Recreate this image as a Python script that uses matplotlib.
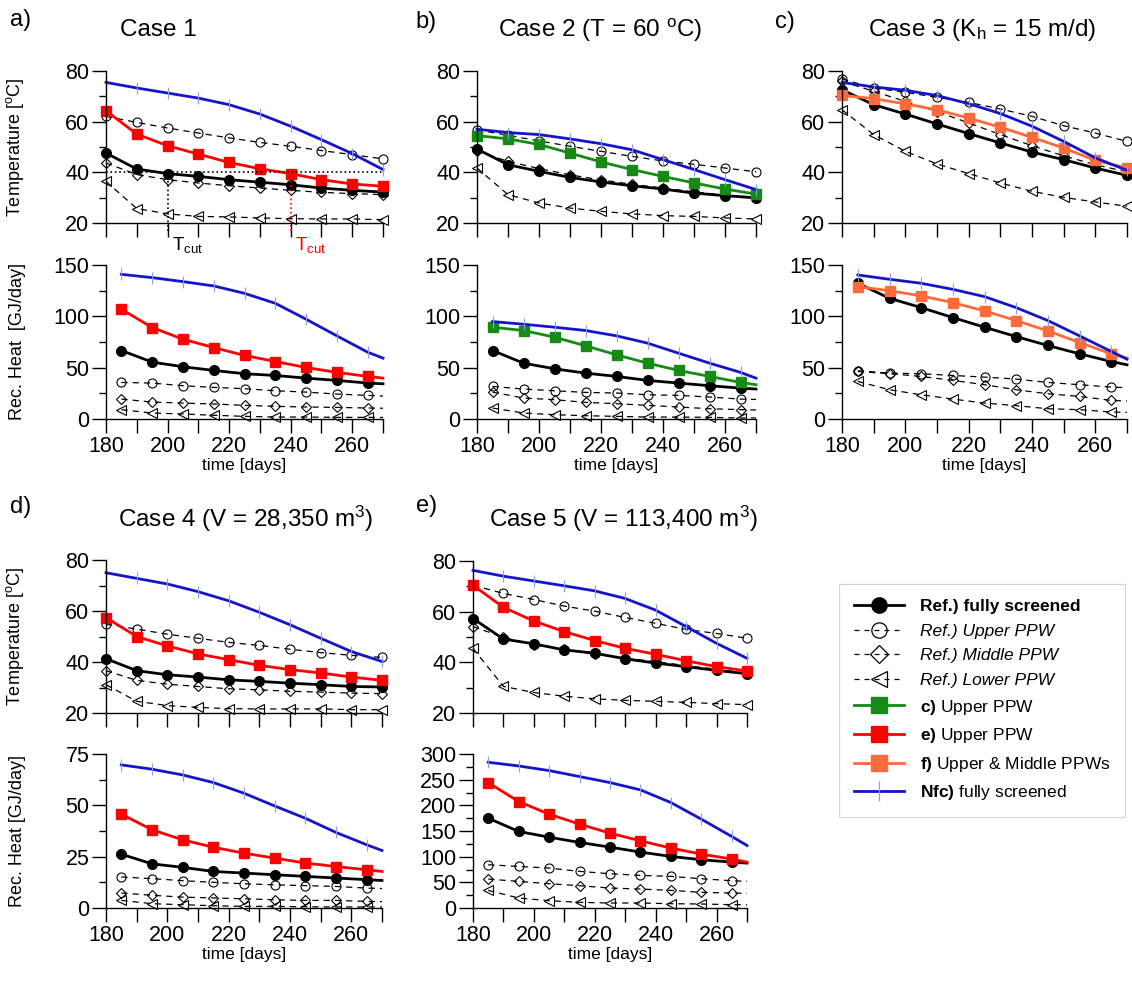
import matplotlib
matplotlib.use("Agg")
import matplotlib.pyplot as plt
from matplotlib.lines import Line2D
from matplotlib.ticker import MultipleLocator

plt.rcParams["font.family"] = ["Liberation Sans", "DejaVu Sans"]
plt.rcParams["mathtext.fontset"] = "custom"
plt.rcParams["mathtext.rm"] = "Liberation Sans"
plt.rcParams["mathtext.it"] = "Liberation Sans:italic"
plt.rcParams["mathtext.bf"] = "Liberation Sans:bold"

W, H = 1132, 988

# time axes (temperature sampled every 10 days, heat mid-interval + end)
DAYS_T = [180, 190, 200, 210, 220, 230, 240, 250, 260, 270]
DAYS_H = [185, 195, 205, 215, 225, 235, 245, 255, 265, 270]

# ---- Case 1 ----
A_T_REF = [47.6, 41.3, 39.5, 38.4, 37.1, 36.1, 35.1, 33.8, 32.9, 32.2]
A_T_UP = [62.1, 59.7, 57.5, 55.5, 53.6, 51.8, 50.3, 48.6, 47.0, 45.3]
A_T_MID = [43.7, 39.1, 37.1, 35.8, 34.7, 33.8, 32.9, 32.1, 31.6, 31.2]
A_T_LOW = [36.4, 25.7, 23.6, 22.6, 22.4, 22.0, 21.7, 21.6, 21.6, 21.3]
A_T_CASE = [64.3, 55.1, 50.5, 47.2, 43.9, 41.4, 39.5, 37.1, 35.4, 34.5]
A_T_NFC = [75.5, 73.3, 71.3, 69.3, 66.7, 63.0, 58.2, 52.9, 47.4, 41.1]
A_H_REF = [66.7, 55.4, 50.9, 47.3, 44.1, 42.4, 39.8, 37.6, 35.0, 34.3]
A_H_UP = [35.6, 35.0, 32.4, 30.8, 29.5, 27.5, 26.2, 24.3, 23.0, 22.4]
A_H_MID = [19.4, 16.5, 15.5, 14.6, 13.3, 12.3, 11.7, 11.3, 10.7, 10.5]
A_H_LOW = [9.1, 5.8, 4.9, 3.6, 2.6, 1.9, 1.9, 1.6, 1.6, 1.5]
A_H_CASE = [106.9, 89.1, 77.7, 69.6, 61.9, 56.0, 50.2, 45.4, 41.5, 39.8]
A_H_NFC = [140.9, 137.7, 133.8, 129.6, 122.4, 112.7, 97.2, 81.0, 65.1, 59.3]

# ---- Case 2 ----
B_T_REF = [49.2, 43.0, 40.4, 38.0, 36.2, 34.7, 33.4, 31.8, 30.8, 29.9]
B_T_UP = [56.8, 54.6, 52.4, 50.3, 48.3, 46.3, 44.5, 43.2, 41.7, 40.2]
B_T_MID = [48.5, 44.3, 41.5, 39.0, 37.0, 35.3, 33.8, 32.3, 31.0, 30.2]
B_T_LOW = [41.7, 31.2, 27.9, 25.9, 24.6, 23.6, 22.9, 22.6, 22.0, 21.6]
B_T_CASE = [54.5, 53.2, 51.0, 47.6, 44.1, 41.1, 38.4, 35.8, 33.4, 31.4]
B_T_NFC = [57.0, 55.7, 54.9, 53.2, 51.3, 48.9, 45.0, 41.1, 37.1, 33.2]
B_H_REF = [66.7, 54.4, 48.9, 44.7, 41.5, 37.6, 35.0, 32.4, 30.1, 29.2]
B_H_UP = [31.7, 29.2, 27.5, 25.9, 25.3, 23.6, 23.0, 21.4, 19.4, 19.0]
B_H_MID = [26.2, 20.4, 18.8, 16.2, 14.9, 13.3, 11.7, 10.0, 9.1, 8.8]
B_H_LOW = [10.7, 5.8, 4.2, 3.2, 2.6, 1.9, 1.9, 1.6, 1.0, 1.0]
B_H_CASE = [89.4, 86.2, 79.7, 71.3, 62.5, 54.4, 47.3, 41.5, 35.6, 33.4]
B_H_NFC = [94.9, 92.3, 89.4, 86.2, 81.0, 73.9, 64.1, 54.4, 45.4, 39.8]

# ---- Case 3 ----
C_T_REF = [72.6, 66.7, 63.0, 59.1, 55.3, 51.6, 48.0, 45.0, 41.7, 38.8]
C_T_UP = [76.8, 73.3, 71.6, 69.6, 67.6, 65.0, 62.1, 58.4, 55.5, 52.2]
C_T_MID = [75.9, 72.0, 68.0, 64.0, 59.5, 54.9, 50.5, 46.5, 43.0, 40.2]
C_T_LOW = [64.7, 54.9, 48.3, 43.3, 39.5, 35.8, 32.5, 30.1, 28.3, 26.6]
C_T_CASE = [70.4, 69.1, 67.0, 64.7, 61.4, 57.8, 53.8, 49.6, 44.7, 41.7]
C_T_NFC = [75.5, 73.7, 72.4, 70.3, 67.1, 63.2, 58.2, 52.2, 45.7, 40.8]
C_H_REF = [132.2, 117.6, 108.5, 98.8, 89.4, 80.3, 71.6, 63.5, 56.0, 52.8]
C_H_UP = [47.0, 44.7, 44.1, 42.4, 40.8, 38.9, 35.6, 33.4, 31.1, 30.5]
C_H_MID = [46.3, 44.1, 41.5, 37.6, 33.4, 28.5, 24.6, 22.0, 18.1, 17.5]
C_H_LOW = [36.6, 28.5, 23.6, 19.4, 15.5, 13.0, 10.0, 9.1, 6.8, 6.5]
C_H_CASE = [128.9, 125.0, 119.9, 113.4, 105.3, 95.9, 85.8, 74.5, 63.5, 59.3]
C_H_NFC = [140.3, 136.1, 132.2, 126.3, 119.2, 108.5, 95.9, 81.0, 65.8, 58.3]

# ---- Case 4 ----
D_T_REF = [41.3, 36.6, 35.0, 34.1, 33.0, 32.4, 31.7, 31.1, 30.4, 30.2]
D_T_UP = [54.8, 52.9, 50.9, 49.3, 47.7, 46.5, 45.0, 43.7, 42.6, 41.8]
D_T_MID = [36.6, 32.8, 31.3, 30.4, 29.5, 29.1, 28.5, 28.2, 27.8, 27.6]
D_T_LOW = [31.1, 24.6, 22.9, 22.2, 21.7, 21.6, 21.6, 21.6, 21.3, 21.3]
D_T_CASE = [57.4, 50.0, 46.3, 43.2, 40.9, 38.7, 37.0, 35.7, 34.1, 32.8]
D_T_NFC = [75.0, 72.8, 70.6, 67.6, 64.0, 59.5, 54.6, 49.3, 44.1, 40.2]
D_H_REF = [26.2, 21.5, 19.8, 17.8, 17.0, 16.2, 15.4, 14.6, 13.8, 13.4]
D_H_UP = [15.1, 14.3, 13.3, 12.5, 11.8, 11.3, 10.9, 10.5, 9.7, 9.5]
D_H_MID = [7.3, 6.2, 5.3, 4.9, 4.5, 4.0, 3.7, 3.7, 3.2, 3.1]
D_H_LOW = [3.7, 2.1, 1.6, 1.1, 0.8, 0.8, 0.6, 0.5, 0.5, 0.5]
D_H_CASE = [45.7, 38.1, 33.2, 29.6, 26.7, 24.3, 21.9, 20.2, 18.6, 17.8]
D_H_NFC = [69.7, 67.6, 64.8, 61.1, 55.9, 49.7, 43.7, 36.8, 30.8, 28.0]

# ---- Case 5 ----
E_T_REF = [57.3, 49.2, 47.3, 44.9, 43.6, 41.4, 39.7, 38.3, 36.8, 35.5]
E_T_UP = [70.4, 67.2, 64.8, 62.2, 60.2, 57.7, 55.4, 53.0, 51.4, 49.5]
E_T_MID = [54.1, 49.9, 46.9, 45.2, 43.2, 41.6, 40.3, 38.7, 37.3, 35.7]
E_T_LOW = [45.5, 30.5, 28.1, 26.6, 25.6, 25.0, 24.6, 24.2, 23.7, 23.3]
E_T_CASE = [70.4, 61.7, 56.3, 52.1, 48.6, 45.5, 43.2, 40.6, 38.3, 36.6]
E_T_NFC = [76.3, 74.0, 72.1, 70.2, 68.2, 65.2, 60.6, 54.1, 47.5, 41.6]
E_H_REF = [175.0, 149.1, 138.0, 127.7, 118.6, 108.9, 100.5, 94.0, 89.4, 87.5]
E_H_UP = [84.3, 81.0, 77.8, 71.3, 66.8, 63.5, 61.6, 57.0, 53.1, 52.0]
E_H_MID = [56.4, 51.8, 47.3, 43.4, 38.9, 36.9, 34.3, 30.5, 29.2, 28.5]
E_H_LOW = [34.3, 19.4, 14.3, 11.0, 9.7, 9.7, 8.4, 7.8, 6.5, 6.2]
E_H_CASE = [244.3, 207.4, 182.8, 163.3, 145.8, 130.9, 116.7, 105.0, 95.3, 89.4]
E_H_NFC = [283.9, 276.7, 267.7, 256.0, 244.3, 230.1, 205.4, 173.0, 139.3, 121.8]

RED = "#ff0000"
GREEN = "#158a15"
ORANGE = "#ff6a3a"
BLUE = "#1414c8"
BLUE_TICK = "#8a9cf0"

HEAT_MARKS = list(range(9))  # last heat point (day 270) carries no marker


def px_box(left, top, right, bottom):
    """Pixel box of the reference -> figure fraction rect."""
    return [left / W, 1 - bottom / H, (right - left) / W, (bottom - top) / H]


def draw_series(ax, days, ref, up, mid, low, case, nfc, case_color, mark):
    dash = dict(color="black", lw=0.9, dashes=(5, 4), mfc="none",
                mec="black", mew=0.8, markevery=mark, clip_on=False)
    ax.plot(days, up, marker="o", ms=6.5, **dash)
    ax.plot(days, mid, marker="D", ms=5.2, **dash)
    ax.plot(days, low, marker="<", ms=6.5, **dash)
    ax.plot(days, ref, color="black", lw=2.0, marker="o", ms=7,
            markevery=mark, clip_on=False)
    ax.plot(days, case, color=case_color, lw=2.0, marker="s", ms=7,
            markevery=mark, clip_on=False)
    ax.plot(days, nfc, color=BLUE, lw=2.0, marker="|", ms=8, mec=BLUE_TICK,
            mew=0.8, markevery=mark, clip_on=False)


def style_axis(ax, ylim, major, minor, show_x):
    ax.set_xlim(180, 270)
    ax.set_ylim(*ylim)
    for side in ("top", "right"):
        ax.spines[side].set_visible(False)
    for side in ("left", "bottom"):
        ax.spines[side].set_linewidth(1.0)
    ax.xaxis.set_major_locator(MultipleLocator(20))
    ax.xaxis.set_minor_locator(MultipleLocator(10))
    ax.yaxis.set_major_locator(MultipleLocator(major))
    ax.yaxis.set_minor_locator(MultipleLocator(minor))
    ax.tick_params(which="both", direction="out", width=1.0, labelsize=15.5)
    ax.tick_params(axis="x", which="both", length=10, pad=2)
    ax.tick_params(axis="y", which="major", length=10, pad=2)
    ax.tick_params(axis="y", which="minor", length=5)
    if not show_x:
        ax.tick_params(axis="x", labelbottom=False)


def make_panel(fig, temp_box, heat_box, temp, heat, color, heat_lim):
    ax_t = fig.add_axes(px_box(*temp_box))
    draw_series(ax_t, DAYS_T, *temp, color, None)
    style_axis(ax_t, (20, 80), 20, 10, False)

    ax_h = fig.add_axes(px_box(*heat_box))
    draw_series(ax_h, DAYS_H, *heat, color, HEAT_MARKS)
    top, major = heat_lim
    style_axis(ax_h, (0, top), major, major / 2, True)
    ax_h.set_xlabel("time [days]", fontsize=12.5, labelpad=1)
    return ax_t, ax_h


def main():
    fig = plt.figure(figsize=(W / 100, H / 100), dpi=100)

    ax_at, ax_ah = make_panel(
        fig, (106, 71, 383, 223), (106, 265, 383, 419),
        (A_T_REF, A_T_UP, A_T_MID, A_T_LOW, A_T_CASE, A_T_NFC),
        (A_H_REF, A_H_UP, A_H_MID, A_H_LOW, A_H_CASE, A_H_NFC),
        RED, (150, 50))
    make_panel(
        fig, (477, 71, 756, 223), (477, 265, 756, 419),
        (B_T_REF, B_T_UP, B_T_MID, B_T_LOW, B_T_CASE, B_T_NFC),
        (B_H_REF, B_H_UP, B_H_MID, B_H_LOW, B_H_CASE, B_H_NFC),
        GREEN, (150, 50))
    make_panel(
        fig, (842, 71, 1127, 223), (842, 265, 1127, 419),
        (C_T_REF, C_T_UP, C_T_MID, C_T_LOW, C_T_CASE, C_T_NFC),
        (C_H_REF, C_H_UP, C_H_MID, C_H_LOW, C_H_CASE, C_H_NFC),
        ORANGE, (150, 50))
    ax_dt, ax_dh = make_panel(
        fig, (106, 560, 382, 713), (106, 754, 382, 908),
        (D_T_REF, D_T_UP, D_T_MID, D_T_LOW, D_T_CASE, D_T_NFC),
        (D_H_REF, D_H_UP, D_H_MID, D_H_LOW, D_H_CASE, D_H_NFC),
        RED, (75, 25))
    make_panel(
        fig, (473, 561, 747, 713), (473, 754, 747, 908),
        (E_T_REF, E_T_UP, E_T_MID, E_T_LOW, E_T_CASE, E_T_NFC),
        (E_H_REF, E_H_UP, E_H_MID, E_H_LOW, E_H_CASE, E_H_NFC),
        RED, (300, 50))

    # y labels (only leftmost column)
    for ax in (ax_at, ax_dt):
        ax.set_ylabel(r"Temperature [$^{\rm o}$C]", fontsize=13, labelpad=6)
    ax_ah.set_ylabel("Rec. Heat  [GJ/day]", fontsize=13, labelpad=6)
    ax_dh.set_ylabel("Rec. Heat [GJ/day]", fontsize=13, labelpad=6)
    for ax in (ax_at, ax_ah, ax_dt, ax_dh):
        ax.yaxis.set_label_coords(-80 / 277, 0.5)

    # T_cut markers in case 1
    ax_at.plot([180, 270], [40, 40], color="black", lw=1.2, ls=":")
    ax_at.plot([200, 200], [40, 15.5], color="black", lw=1.2, ls=":", clip_on=False)
    ax_at.plot([240, 240], [40, 15.5], color=RED, lw=1.2, ls=":", clip_on=False)
    ax_at.text(201.5, 11.3, r"T$_{\rm cut}$", fontsize=13.5, color="black",
               ha="left", va="center")
    ax_at.text(241.5, 11.3, r"T$_{\rm cut}$", fontsize=13.5, color=RED,
               ha="left", va="center")

    # panel letters and titles
    letters = [("a)", 10, 20), ("b)", 415, 22), ("c)", 775, 22),
               ("d)", 10, 507), ("e)", 416, 506)]
    for txt, x, y in letters:
        fig.text(x / W, 1 - y / H, txt, fontsize=17, ha="left", va="center")
    titles = [("Case 1", 158, 30),
              (r"Case 2 (T = 60 $^{\rm o}$C)", 600, 30),
              (r"Case 3 (K$_{\rm h}$ = 15 m/d)", 982, 30),
              (r"Case 4 (V = 28,350 m$^{3}$)", 246, 519),
              (r"Case 5 (V = 113,400 m$^{3}$)", 623, 519)]
    for txt, x, y in titles:
        fig.text(x / W, 1 - y / H, txt, fontsize=17.5, ha="center", va="center")

    # legend
    dash = dict(color="black", lw=0.9, dashes=(4, 4), mfc="none", mec="black", mew=0.9)
    handles = [
        Line2D([], [], color="black", lw=2, marker="o", ms=11),
        Line2D([], [], marker="o", ms=11, **dash),
        Line2D([], [], marker="D", ms=9, **dash),
        Line2D([], [], marker="<", ms=11, **dash),
        Line2D([], [], color=GREEN, lw=2, marker="s", ms=11),
        Line2D([], [], color=RED, lw=2, marker="s", ms=11),
        Line2D([], [], color=ORANGE, lw=2, marker="s", ms=11),
        Line2D([], [], color=BLUE, lw=2, marker="|", ms=14, mec=BLUE_TICK, mew=0.9),
    ]
    labels = [
        "Ref.) fully screened",
        "Ref.) Upper PPW",
        "Ref.) Middle PPW",
        "Ref.) Lower PPW",
        r"$\mathbf{c)}$ Upper PPW",
        r"$\mathbf{e)}$ Upper PPW",
        r"$\mathbf{f)}$ Upper & Middle PPWs",
        r"$\mathbf{Nfc)}$ fully screened",
    ]
    leg = fig.legend(handles, labels, loc="upper left",
                     bbox_to_anchor=(839 / W, 1 - 584 / H), fontsize=12.5,
                     frameon=True, fancybox=False, edgecolor="#c8c8c8",
                     handlelength=2.9, handletextpad=0.9, labelspacing=0.55,
                     borderpad=0.85, borderaxespad=0)
    leg.get_frame().set_linewidth(0.8)
    texts = leg.get_texts()
    texts[0].set_fontweight("bold")
    for t in texts[1:4]:
        t.set_fontstyle("italic")

    fig.savefig("out.png", dpi=100, facecolor="white")
    plt.close(fig)


if __name__ == "__main__":
    main()
